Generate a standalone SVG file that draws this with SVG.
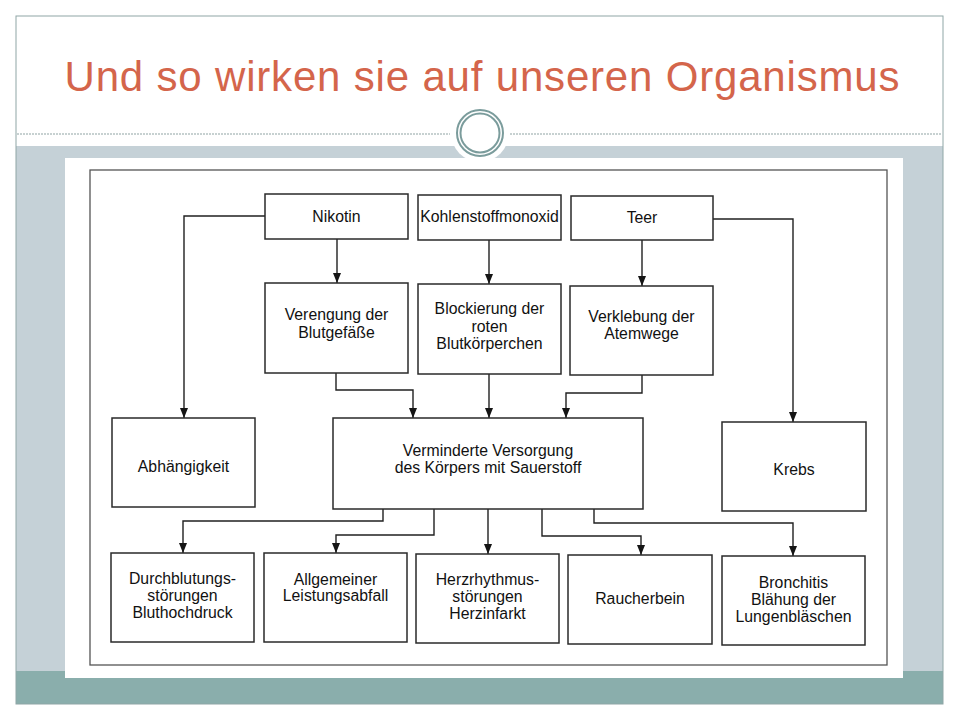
<svg xmlns="http://www.w3.org/2000/svg" width="960" height="720" viewBox="0 0 960 720">
<style>
.box{fill:#fff;stroke:#2a2a2a;stroke-width:1.5}
.t{font-family:"Liberation Sans",Arial,sans-serif;font-size:15.8px;fill:#111;text-anchor:middle}
.c{fill:none;stroke:#202020;stroke-width:1.4}
</style>
<defs>
<marker id="ah" markerUnits="userSpaceOnUse" markerWidth="8" markerHeight="10" viewBox="0 0 8 10" refX="4" refY="10" orient="0">
<path d="M0,0 L8,0 L4,10 z" fill="#151515"/>
</marker>
</defs>
<rect x="0" y="0" width="960" height="720" fill="#fff"/>
<g id="slide">
<rect x="16" y="146" width="927" height="526" fill="#c5d1d7"/>
<rect x="16" y="671" width="927" height="33" fill="#8aaeac"/>
<rect x="16" y="16" width="927" height="688" fill="none" stroke="#8fa6a6" stroke-width="1"/>
<line x1="17" y1="134" x2="450" y2="134" stroke="#8fa3a3" stroke-width="1" stroke-dasharray="2,1"/>
<line x1="510" y1="134" x2="942" y2="134" stroke="#8fa3a3" stroke-width="1" stroke-dasharray="2,1"/>
<circle cx="480" cy="133" r="29" fill="#fff"/>
<circle cx="480" cy="133" r="23" fill="none" stroke="#7b9c9c" stroke-width="2"/>
<circle cx="480" cy="133" r="19.5" fill="none" stroke="#7b9c9c" stroke-width="2"/>
<text x="482" y="91" textLength="835" font-family="Liberation Sans,Arial,sans-serif" font-size="42" fill="#d4654b" text-anchor="middle">Und so wirken sie auf unseren Organismus</text>
</g>
<g id="paper">
<rect x="65" y="158" width="838" height="520" fill="#fff"/>
<rect x="90" y="170" width="797" height="495" fill="none" stroke="#555" stroke-width="1.3"/>
</g>
<g id="connectors">
<path class="c" d="M265,216 H184 V418" marker-end="url(#ah)"/>
<path class="c" d="M337,239 V283" marker-end="url(#ah)"/>
<path class="c" d="M489,240 V284" marker-end="url(#ah)"/>
<path class="c" d="M642,240 V286" marker-end="url(#ah)"/>
<path class="c" d="M713,219 H793 V422" marker-end="url(#ah)"/>
<path class="c" d="M336,373 V390 H413 V418" marker-end="url(#ah)"/>
<path class="c" d="M489,374 V418" marker-end="url(#ah)"/>
<path class="c" d="M642,375 V393 H566 V418" marker-end="url(#ah)"/>
<path class="c" d="M383,509 V521 H183 V553" marker-end="url(#ah)"/>
<path class="c" d="M434,509 V535 H336 V553" marker-end="url(#ah)"/>
<path class="c" d="M488,509 V554" marker-end="url(#ah)"/>
<path class="c" d="M542,509 V536 H641 V555" marker-end="url(#ah)"/>
<path class="c" d="M594,509 V523 H793 V556" marker-end="url(#ah)"/>
</g>
<g id="nikotin"><rect class="box" x="265" y="194" width="143" height="45"/><text class="t" x="336.5" y="222">Nikotin</text></g>
<g id="kohlenstoffmonoxid"><rect class="box" x="418" y="195" width="143" height="45"/><text class="t" x="489.5" y="222">Kohlenstoffmonoxid</text></g>
<g id="teer"><rect class="box" x="571" y="196" width="142" height="44"/><text class="t" x="642" y="223">Teer</text></g>
<g id="verengung"><rect class="box" x="265" y="283" width="143" height="90"/><text class="t" x="336.5" y="320">Verengung der</text><text class="t" x="336.5" y="337.5">Blutgefäße</text></g>
<g id="blockierung"><rect class="box" x="418" y="284" width="143" height="90"/><text class="t" x="489.5" y="314">Blockierung der</text><text class="t" x="489.5" y="331.5">roten</text><text class="t" x="489.5" y="349">Blutkörperchen</text></g>
<g id="verklebung"><rect class="box" x="570" y="286" width="143" height="89"/><text class="t" x="641.5" y="322">Verklebung der</text><text class="t" x="641.5" y="339">Atemwege</text></g>
<g id="abhaengigkeit"><rect class="box" x="112" y="418" width="143" height="89"/><text class="t" x="183.5" y="472">Abhängigkeit</text></g>
<g id="verminderte"><rect class="box" x="333" y="418" width="310" height="91"/><text class="t" x="488" y="456">Verminderte Versorgung</text><text class="t" x="488" y="473">des Körpers mit Sauerstoff</text></g>
<g id="krebs"><rect class="box" x="722" y="422" width="144" height="89"/><text class="t" x="794" y="475">Krebs</text></g>
<g id="durchblutung"><rect class="box" x="111" y="553" width="143" height="89"/><text class="t" x="182.5" y="584">Durchblutungs-</text><text class="t" x="182.5" y="601">störungen</text><text class="t" x="182.5" y="618">Bluthochdruck</text></g>
<g id="allgemeiner"><rect class="box" x="264" y="553" width="143" height="89"/><text class="t" x="335.5" y="584.5">Allgemeiner</text><text class="t" x="335.5" y="601">Leistungsabfall</text></g>
<g id="herzrhythmus"><rect class="box" x="416" y="554" width="143" height="89"/><text class="t" x="487.5" y="585">Herzrhythmus-</text><text class="t" x="487.5" y="602">störungen</text><text class="t" x="487.5" y="619">Herzinfarkt</text></g>
<g id="raucherbein"><rect class="box" x="568" y="555" width="144" height="89"/><text class="t" x="640" y="604">Raucherbein</text></g>
<g id="bronchitis"><rect class="box" x="722" y="556" width="143" height="89"/><text class="t" x="793.5" y="588">Bronchitis</text><text class="t" x="793.5" y="605">Blähung der</text><text class="t" x="793.5" y="622">Lungenbläschen</text></g>
</svg>
